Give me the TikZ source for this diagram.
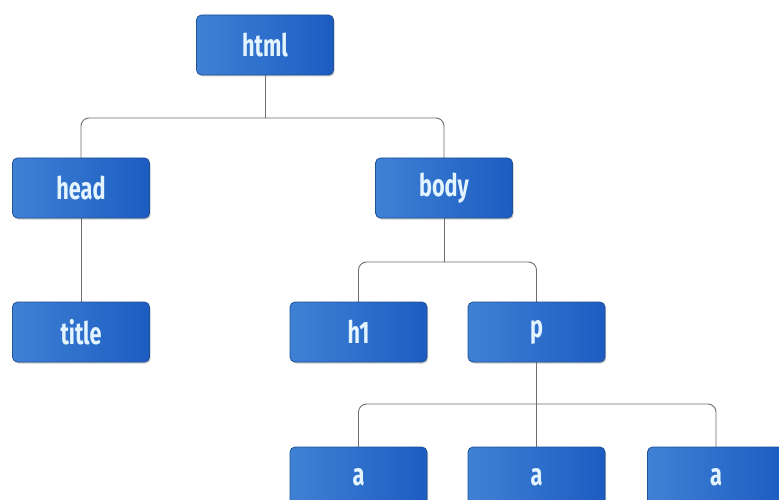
\documentclass[tikz,border=0pt]{standalone}
\usepackage{fontspec}
\setmainfont[FakeStretch=0.7]{Fira Sans}
\usetikzlibrary{shadows}
\definecolor{boxlight}{HTML}{3F82D4}
\definecolor{boxdark}{HTML}{1C5CC2}
\definecolor{boxedge}{HTML}{1F4F96}
\definecolor{boxtext}{HTML}{E4F4FF}
\definecolor{wire}{HTML}{6E6E6E}
\tikzset{
  tag/.style={rectangle, rounded corners=5pt, minimum width=137pt, minimum height=60pt,
    left color=boxlight, right color=boxdark, draw=boxedge, line width=0.8pt,
    drop shadow={shadow xshift=1.2pt, shadow yshift=-1.5pt, opacity=0.35, fill=black!60},
    text=boxtext, font=\fontsize{31}{31}\selectfont\bfseries, inner sep=0pt},
  wirestyle/.style={draw=wire, line width=0.9pt, rounded corners=8pt}
}
\begin{document}
\begin{tikzpicture}[x=1pt, y=-1pt]
  \useasboundingbox (0,0) rectangle (779,500);
  \clip (0,0) rectangle (779,500);
  \fill[white] (0,0) rectangle (779,500);

  % tree branch points
  \coordinate (j1) at (265,118);
  \coordinate (j2) at (444,262);
  \coordinate (j3) at (536.5,404);

  % connectors, drawn beneath the boxes
  \draw[wirestyle] (265,45) -- (j1);
  \draw[wirestyle] (81,188) |- (j1) -| (444,188);
  \draw[wirestyle] (81,188) -- (81,332);
  \draw[wirestyle] (444,188) -- (j2);
  \draw[wirestyle] (358.5,332) |- (j2) -| (536.5,332);
  \draw[wirestyle] (536.5,332) -- (j3);
  \draw[wirestyle] (358.5,477) |- (j3) -| (716,477);
  \draw[wirestyle] (j3) -- (536.5,477);

  % element boxes
  \node[tag] (html)  at (265,45)    {html};
  \node[tag] (head)  at (81,188)    {head};
  \node[tag] (body)  at (444,188)   {body};
  \node[tag] (title) at (81,332)    {title};
  \node[tag] (h1)    at (358.5,332) {h1};
  \node[tag] (p)     at (536.5,332) {p};
  \node[tag] (a1)    at (358.5,477) {a};
  \node[tag] (a2)    at (536.5,477) {a};
  \node[tag] (a3)    at (716,477)   {a};
\end{tikzpicture}
\end{document}
